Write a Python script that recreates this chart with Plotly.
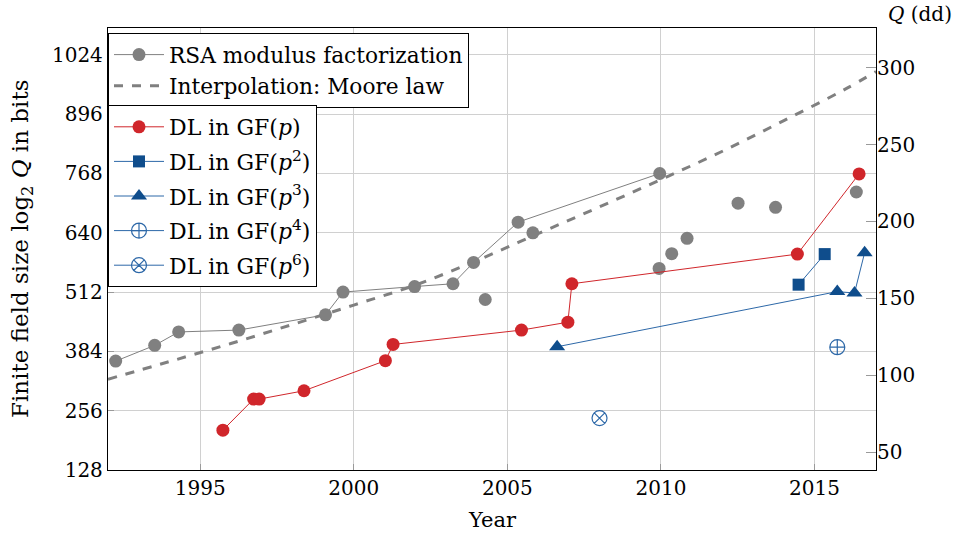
import plotly.graph_objects as go
import math

# ---- data ----
rsa_years = [1992.25, 1993.52, 1994.30, 1996.26, 1999.08, 1999.65, 2001.98, 2003.23, 2003.90, 2005.35, 2009.96]
rsa_bits = [363, 397, 426, 430, 463, 512, 524, 530, 576, 663, 768]
rsa_other_years = [2004.28, 2005.83, 2009.94, 2010.35, 2010.85, 2012.51, 2013.73, 2016.36]
rsa_other_bits = [496, 640, 563, 595, 628, 704, 695, 728]

moore_years = [1992, 1994, 1996, 1998, 2000, 2002, 2004, 2006, 2008, 2010, 2012, 2014, 2016, 2017]
moore_bits = [324, 362, 401, 442, 484, 527, 580, 638, 696, 755, 816, 882, 950, 988]

gfp_years = [1995.74, 1996.74, 1996.92, 1998.38, 2001.03, 2001.28, 2005.46, 2006.97, 2007.10, 2014.44, 2016.45]
gfp_bits = [214, 281, 281, 299, 364, 399, 430, 447, 530, 594, 767]

gfp2_years = [2014.48, 2015.33]
gfp2_bits = [528, 594]

gfp3_years = [2006.62, 2015.74, 2016.30, 2016.63]
gfp3_bits = [394, 513, 510, 597]

gfp4_years = [2015.74]
gfp4_bits = [393]

gfp6_years = [2008.0]
gfp6_bits = [240]

left_ticks = [128, 256, 384, 512, 640, 768, 896, 1024]
right_ticks = [50, 100, 150, 200, 250, 300]
x_ticks = [1995, 2000, 2005, 2010, 2015]

FONT = "DejaVu Serif"
GRAY = "#808080"
RED = "#d0262b"
BLUE = "#0f4d8c"
BLUE_LINE = "#2d68a8"

y_range = [128, 1082]
log10_2 = math.log10(2)

W, H = 958, 536
ML, MR, MT, MB = 108, 82, 28, 66
PW, PH = W - ML - MR, H - MT - MB

fig = go.Figure()

fig.add_trace(go.Scatter(
    x=rsa_years, y=rsa_bits, mode="lines+markers", name="RSA modulus factorization",
    line=dict(color=GRAY, width=1), marker=dict(color=GRAY, size=13, symbol="circle"),
    legend="legend", legendgroup="a"))
fig.add_trace(go.Scatter(
    x=rsa_other_years, y=rsa_other_bits, mode="markers", showlegend=False,
    marker=dict(color=GRAY, size=13, symbol="circle"), legend="legend", legendgroup="a"))
fig.add_trace(go.Scatter(
    x=moore_years, y=moore_bits, mode="lines", name="Interpolation: Moore law",
    line=dict(color=GRAY, width=3, dash="dash", shape="spline"), legend="legend", legendgroup="b"))

fig.add_trace(go.Scatter(
    x=gfp_years, y=gfp_bits, mode="lines+markers", name="DL in GF(<i>p</i>)",
    line=dict(color=RED, width=1), marker=dict(color=RED, size=13, symbol="circle"),
    legend="legend2", legendgroup="c"))
fig.add_trace(go.Scatter(
    x=gfp2_years, y=gfp2_bits, mode="lines+markers", name="DL in GF(<i>p</i><sup>2</sup>)",
    line=dict(color=BLUE_LINE, width=1), marker=dict(color=BLUE, size=12, symbol="square"),
    legend="legend2", legendgroup="d"))
fig.add_trace(go.Scatter(
    x=gfp3_years, y=gfp3_bits, mode="lines+markers", name="DL in GF(<i>p</i><sup>3</sup>)",
    line=dict(color=BLUE_LINE, width=1), marker=dict(color=BLUE, size=14, symbol="triangle-up"),
    legend="legend2", legendgroup="e"))
fig.add_trace(go.Scatter(
    x=gfp4_years, y=gfp4_bits, mode="lines+markers", name="DL in GF(<i>p</i><sup>4</sup>)",
    line=dict(color=BLUE_LINE, width=1),
    marker=dict(color=BLUE_LINE, size=15, symbol="circle-cross-open", line=dict(width=1.2, color=BLUE_LINE)),
    legend="legend2", legendgroup="f"))
fig.add_trace(go.Scatter(
    x=gfp6_years, y=gfp6_bits, mode="lines+markers", name="DL in GF(<i>p</i><sup>6</sup>)",
    line=dict(color=BLUE_LINE, width=1),
    marker=dict(color=BLUE_LINE, size=15, symbol="circle-x-open", line=dict(width=1.2, color=BLUE_LINE)),
    legend="legend2", legendgroup="g"))

# invisible trace to activate the right axis
fig.add_trace(go.Scatter(
    x=[1992], y=[y_range[0] * log10_2], yaxis="y2", mode="markers",
    marker=dict(opacity=0), showlegend=False, hoverinfo="skip"))

legend_common = dict(
    x=0.0, xanchor="left", yanchor="top", bgcolor="white",
    bordercolor="black", borderwidth=1, itemwidth=50)

fig.update_layout(
    width=W, height=H,
    margin=dict(l=ML, r=MR, t=MT, b=MB),
    paper_bgcolor="white", plot_bgcolor="white",
    font=dict(family=FONT, size=21, color="black"),
    xaxis=dict(
        range=[1992, 2017], tickvals=x_ticks, ticks="inside", ticklen=6, tickcolor="#9a9a9a",
        showgrid=True, gridcolor="#d0d0d0", gridwidth=1, zeroline=False,
        showline=True, linecolor="black", linewidth=1.3, mirror=True, automargin=False,
        tickfont=dict(family=FONT, size=20)),
    yaxis=dict(
        range=y_range, tickvals=left_ticks, ticks="inside", ticklen=6, tickcolor="#9a9a9a",
        showgrid=True, gridcolor="#d0d0d0", gridwidth=1, zeroline=False,
        showline=True, linecolor="black", linewidth=1.3, mirror=True, automargin=False,
        tickfont=dict(family=FONT, size=20)),
    yaxis2=dict(
        range=[y_range[0] * log10_2, y_range[1] * log10_2], tickvals=right_ticks,
        overlaying="y", side="right", ticks="inside", ticklen=10, tickcolor="#9a9a9a",
        showgrid=False, zeroline=False, showline=False, automargin=False,
        tickfont=dict(family=FONT, size=20)),
    legend=dict(y=1 - 5 / PH, tracegroupgap=0,
                font=dict(family=FONT, size=21.7, color="black"), **legend_common),
    legend2=dict(y=1 - 77 / PH, tracegroupgap=3,
                 font=dict(family=FONT, size=22, color="black"), **legend_common),
    annotations=[
        dict(text="<i>Q</i> (dd)", xref="paper", yref="paper", x=(886 - ML) / PW, y=1 + 14 / PH,
             xanchor="left", yanchor="middle", showarrow=False,
             font=dict(family=FONT, size=20, color="black")),
        dict(text="Year", xref="paper", yref="paper", x=0.5, y=-(520 - (H - MB)) / PH,
             xanchor="center", yanchor="middle", showarrow=False,
             font=dict(family=FONT, size=21, color="black")),
        dict(text="Finite field size log<sub>2</sub> <i>Q</i> in bits", xref="paper", yref="paper",
             x=-(ML - 22) / PW, y=0.5, textangle=-90,
             xanchor="center", yanchor="middle", showarrow=False,
             font=dict(family=FONT, size=23, color="black")),
    ],
)

fig.write_html("out.html", config={"displayModeBar": False},
               post_script="document.body.style.margin='0';")
